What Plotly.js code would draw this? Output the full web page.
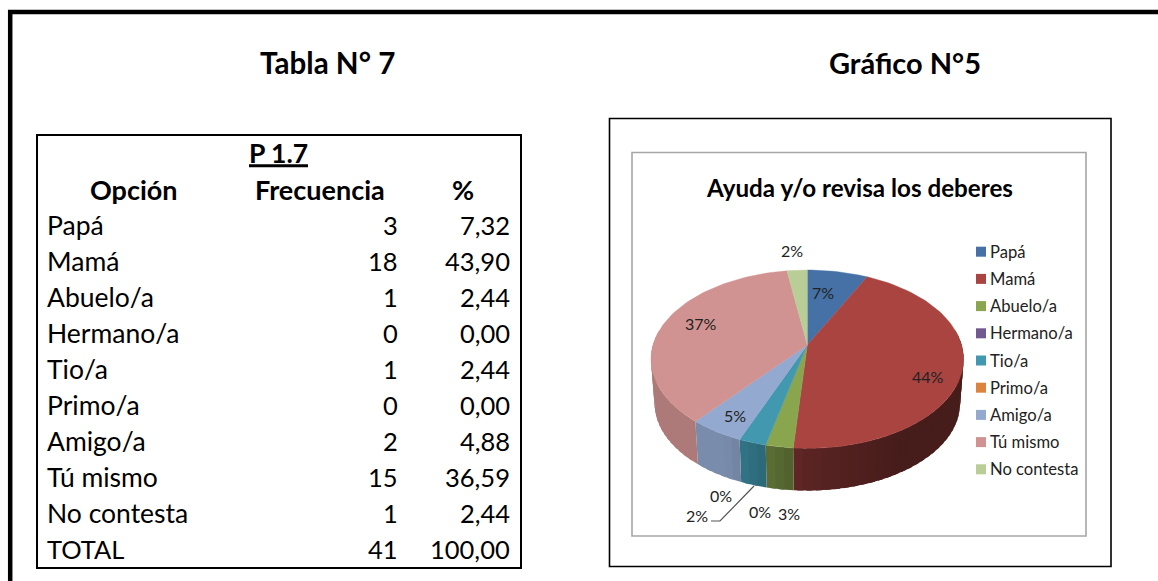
<!DOCTYPE html>
<html>
<head>
<meta charset="utf-8">
<script src="https://cdn.plot.ly/plotly-3.0.1.min.js"></script>
<style>html,body{margin:0;padding:0;background:#fff}#g{width:1158px;height:581px}</style>
</head>
<body>
<div id="g"></div>
<script>
// ---- data ----
const categories = ['Papá','Mamá','Abuelo/a','Hermano/a','Tio/a','Primo/a','Amigo/a','Tú mismo','No contesta'];
const frequency  = [3,18,1,0,1,0,2,15,1];
const percent    = [7.32,43.90,2.44,0.00,2.44,0.00,4.88,36.59,2.44];
const totalFrequency = 41;
const totalPercent = 100.00;
const pieLabels  = ['7%','44%','3%','0%','2%','0%','5%','37%','2%'];
const colors     = ['#4571a6','#a94441','#89a54e','#71588f','#4198af','#db843d','#93a9cf','#d19392','#b9cd96'];

// ---- layout constants ----
const FONT = 'Lato, Carlito, Calibri, sans-serif';
const top3D = {cx:807.3, cy:345, a:154.3, b:86.9, k:0.159};
const bot3D = {cx:807.3, cy:389.7, a:150.8, b:84.9, k:0.159};
const labelPos = [[823,293],[928,377],[789,514],[760,512],[697,516],[721,496],[735,416],[701,324],[792,251]];
const leader = {x:[754,720,711], y:[486,521,521]};
const legend = {mx:981, tx:990, y0:251.7, dy:27.2, textShift:1};
const table = {left:47, freqRight:398, pctRight:510, y0:226, dy:36};
const TEXT_DY = -1;

function project(p, deg){
  const t = deg*Math.PI/180, u = Math.sin(t), v = -Math.cos(t), d = 1 - p.k*v;
  return [p.cx + p.a*u/d, p.cy + p.b*v/d, u];
}
function shade(hex, f){
  const n = parseInt(hex.slice(1),16);
  const c = [(n>>16)&255,(n>>8)&255,n&255].map(x=>Math.round(x*f));
  return 'rgb('+c.join(',')+')';
}
function sideFactor(u){
  return u<0 ? Math.min(0.83, 0.53-0.65*u) : Math.max(0.42, 0.53-0.22*u);
}

const traces = [];
const total = frequency.reduce((s,v)=>s+v,0);
const bounds = []; let run = 0;
frequency.forEach(v=>{ bounds.push([run/total*360,(run+v)/total*360]); run+=v; });

// side walls: each strip reaches into the next one so no seams show
frequency.forEach((v,i)=>{
  if(!v) return;
  const a0 = Math.max(bounds[i][0],80), a1 = Math.min(bounds[i][1],280);
  if(a1<=a0) return;
  const n = Math.max(1,Math.ceil((a1-a0)/3));
  for(let s=0;s<n;s++){
    const p = a0+(a1-a0)*s/n, q = a0+(a1-a0)*Math.min(n,s+1.6)/n;
    const mid = project(top3D,a0+(a1-a0)*(s+0.5)/n);
    const A=project(top3D,p),B=project(top3D,q),C=project(bot3D,q),D=project(bot3D,p);
    const col=shade(colors[i],sideFactor(mid[2]));
    traces.push({type:'scatter',mode:'lines',x:[A[0],B[0],C[0],D[0],A[0]],y:[A[1],B[1],C[1],D[1],A[1]],
      fill:'toself',fillcolor:col,line:{width:0,color:col},hoverinfo:'skip',showlegend:false});
  }
});
// top face
frequency.forEach((v,i)=>{
  if(!v) return;
  const xs=[top3D.cx], ys=[top3D.cy];
  const n = Math.max(2,Math.ceil((bounds[i][1]-bounds[i][0])/2));
  for(let s=0;s<=n;s++){
    const P=project(top3D,bounds[i][0]+(bounds[i][1]-bounds[i][0])*s/n);
    xs.push(P[0]); ys.push(P[1]);
  }
  xs.push(top3D.cx); ys.push(top3D.cy);
  traces.push({type:'scatter',mode:'lines',name:categories[i],x:xs,y:ys,fill:'toself',fillcolor:colors[i],
    line:{width:0.4,color:colors[i]},hoverinfo:'name',showlegend:false});
});
// leader line
traces.push({type:'scatter',mode:'lines',x:leader.x,y:leader.y,line:{color:'#555555',width:1.2},hoverinfo:'skip',showlegend:false});
// legend swatches
categories.forEach((c,i)=>{
  traces.push({type:'scatter',mode:'markers',name:c,x:[legend.mx],y:[legend.y0+i*legend.dy],
    marker:{symbol:'square',size:10,color:colors[i]},hoverinfo:'name',showlegend:false});
});

const ann = [];
function T(text,x,y,size,anchor,bold,color){
  ann.push({text:bold?'<b>'+text+'</b>':text,x:x,y:y+TEXT_DY,xref:'x',yref:'y',xanchor:anchor,yanchor:'middle',showarrow:false,
    font:{family:FONT,size:size,color:color||'#000000'},borderpad:0,borderwidth:0});
}
T('Tabla N° 7',327,63,29.6,'center',true);
T('Gráfico N°5',905,63,29,'center',true);
T('P 1.7',278.5,154,26.5,'center',true);
T('Opción',134,190,27,'center',true);
T('Frecuencia',319.5,190,27,'center',true);
T('%',463,190,27,'center',true);
const fmt = v=>v.toFixed(2).replace('.',',');
categories.forEach((c,i)=>{
  const y = table.y0+i*table.dy;
  T(c,table.left,y,26.5,'left');
  T(String(frequency[i]),table.freqRight,y,25.5,'right');
  T(fmt(percent[i]),table.pctRight,y,25.5,'right');
});
const yT = table.y0+categories.length*table.dy;
T('TOTAL',table.left,yT,25.5,'left');
T(String(totalFrequency),table.freqRight,yT,25.5,'right');
T(fmt(totalPercent),table.pctRight,yT,25.5,'right');

T('Ayuda y/o revisa los deberes',859.5,188,24.2,'center',true);
pieLabels.forEach((l,i)=>T(l,labelPos[i][0],labelPos[i][1],16,'center',false,'#222222'));
categories.forEach((c,i)=>T(c,legend.tx,legend.y0+legend.textShift+i*legend.dy,16.6,'left',false,'#222222'));

const rect=(x0,y0,x1,y1,color,w)=>({type:'rect',xref:'x',yref:'y',x0,y0,x1,y1,line:{color,width:w},fillcolor:'rgba(0,0,0,0)',layer:'below'});
const seg=(x0,y0,x1,y1,color,w)=>({type:'line',xref:'x',yref:'y',x0,y0,x1,y1,line:{color,width:w},layer:'below'});
const shapes=[
  seg(8,12,1158,12,'#000000',4.5),
  seg(10.2,10,10.2,581,'#000000',4.5),
  rect(37,135,521,568,'#000000',2),
  seg(249,165.8,308,165.8,'#000000',3),
  rect(609.5,118.5,1111,566.5,'#000000',1.6),
  rect(632,152.5,1086,536,'#a6a6a6',1.6)
];

Plotly.newPlot('g',traces,{
  width:1158,height:581,margin:{l:0,r:0,t:0,b:0,pad:0},
  paper_bgcolor:'#ffffff',plot_bgcolor:'#ffffff',showlegend:false,
  xaxis:{visible:false,range:[0,1158],fixedrange:true},
  yaxis:{visible:false,range:[581,0],fixedrange:true},
  annotations:ann,shapes:shapes,hovermode:'closest'
},{displayModeBar:false,responsive:false});
</script>
</body>
</html>
